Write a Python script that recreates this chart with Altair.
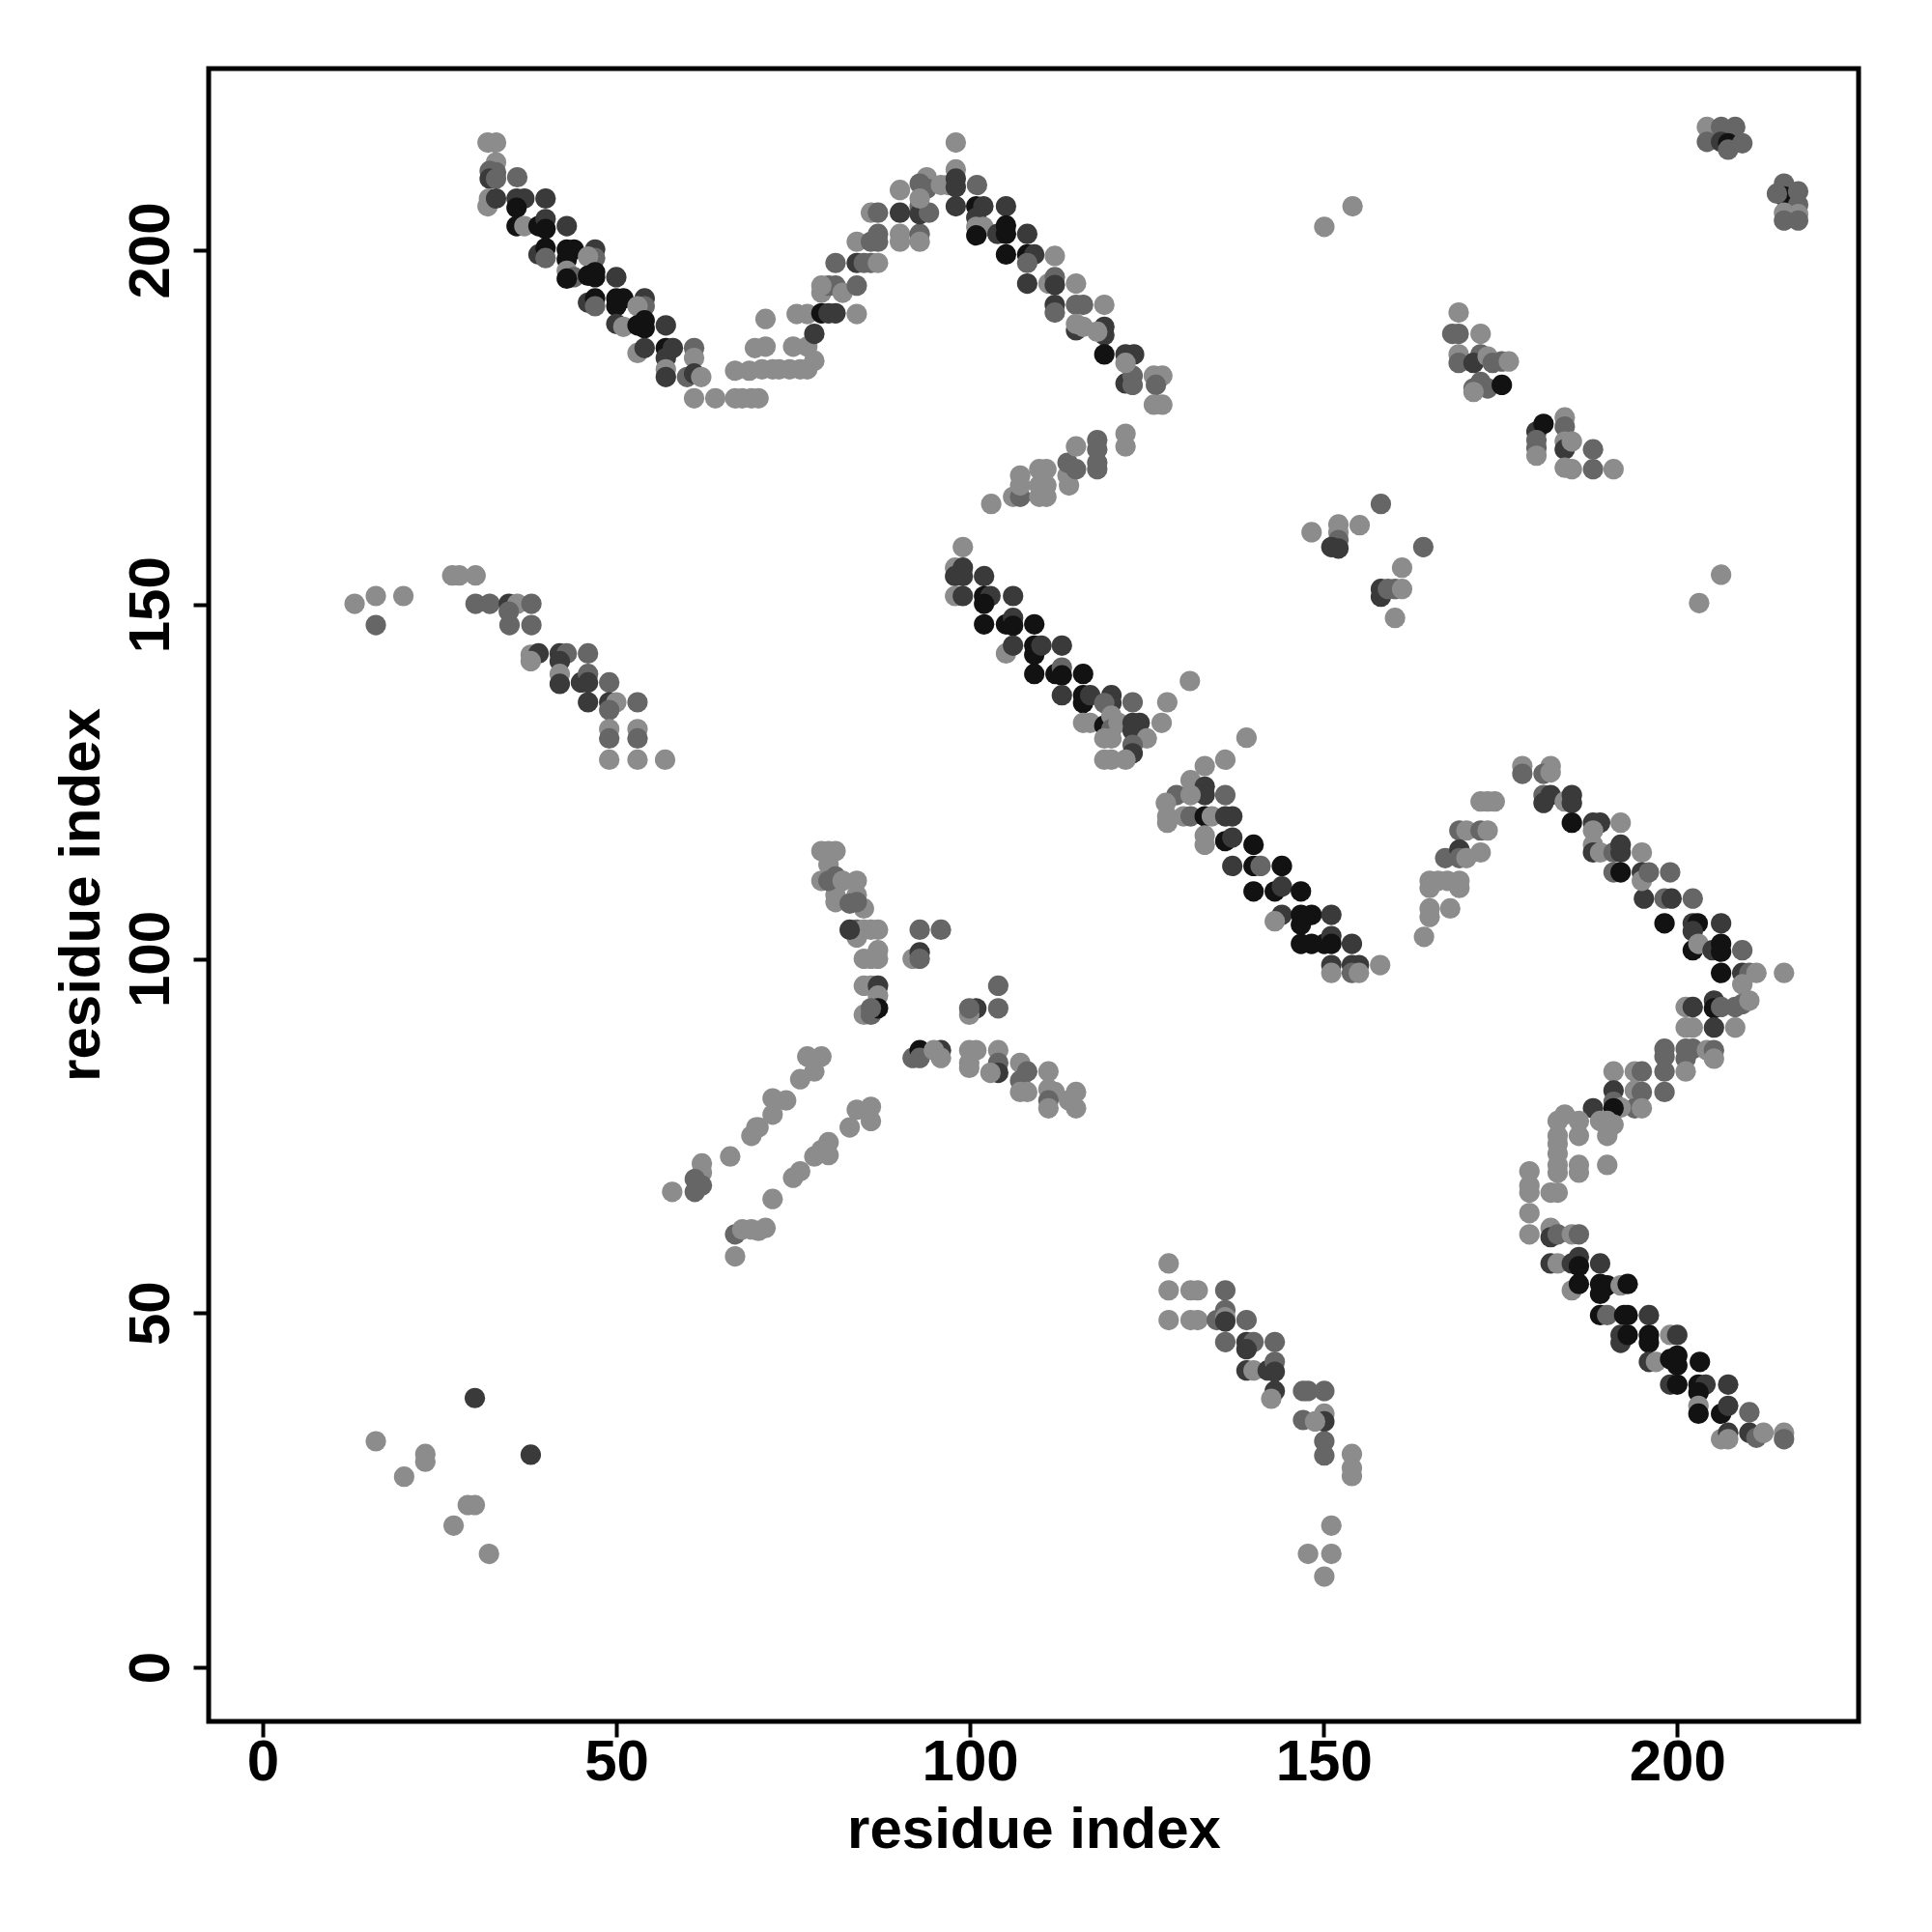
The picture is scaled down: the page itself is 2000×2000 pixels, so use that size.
import altair as alt
import pandas as pd

# (residue i, residue j, confidence level 1..4)
strand_a = [
    (31.8,215.2,1),(33.0,215.2,1),
    (33.0,212.4,1),(32.1,211.2,2),(33.0,211.0,2),(32.1,210.1,3),(33.0,210.1,2),
    (36.0,210.3,2),
    (32.0,207.3,1),(31.8,206.2,1),(33.0,207.3,3),
    (35.9,207.3,3),(37.0,207.3,3),(35.9,206.0,4),
    (40.0,207.3,3),
    (35.9,203.4,4),(37.0,203.4,1),
    (39.0,203.4,4),(40.0,204.4,3),(40.0,203.0,4),
    (43.0,203.4,3),
    (39.0,199.4,3),(40.0,200.3,4),(40.0,198.9,2),
    (43.0,200.1,4),(44.0,200.1,4),(43.0,198.7,4),
    (47.0,200.1,3),(47.0,198.9,2),(46.0,199.1,1),
    (43.0,197.1,1),(44.0,196.2,2),(43.0,196.0,4),
    (46.0,196.4,4),(47.0,196.9,4),(47.0,196.2,4),
    (50.0,196.2,3),
    (46.0,192.6,3),(47.0,193.2,4),(47.0,192.1,2),
    (50.0,193.2,4),(51.0,193.2,4),(50.0,192.1,4),
    (54.0,193.2,3),(54.0,192.1,2),(53.0,192.1,1),
    (50.0,189.6,3),(51.0,189.2,1),
    (53.0,189.4,4),(54.0,190.1,4),(54.0,189.0,4),
    (57.0,189.4,3),
    (53.0,185.5,1),(54.0,186.2,3),
    (57.0,186.2,4),(58.0,186.2,3),(57.0,184.8,3),
    (61.0,186.2,2),(61.0,184.8,1),
    (57.0,183.2,1),(57.0,182.1,3),
    (60.0,182.1,2),(61.0,182.6,3),(62.0,182.1,1),
    (61.0,179.1,1),(64.0,179.1,1),(66.8,179.1,1),(67.8,179.1,1),(69.1,179.1,1),(70.1,179.1,1),
    (66.8,183.0,1),(68.8,183.0,1),(69.6,186.2,1),
]

strand_b = [
    (71.1,190.3,1),(71.1,186.4,1),(70.6,183.2,1),(72.1,183.2,1),(73.0,183.2,1),(74.5,183.2,1),
    (76.0,183.2,1),(77.0,183.2,1),
    (75.0,186.4,1),(77.0,186.4,1),(78.0,184.4,1),(75.5,191.0,1),(77.0,191.0,1),(78.0,188.2,3),
    (79.0,191.1,4),(80.0,191.1,3),(81.0,191.1,3),
    (79.0,194.0,1),(80.0,195.0,2),(81.0,195.0,2),(82.0,194.0,1),(84.0,195.0,2),(84.0,191.0,1),(79.0,195.0,1),
    (81.0,198.2,2),(84.0,198.2,3),(85.0,198.2,2),(86.0,198.2,2),(87.0,198.2,1),
    (84.0,201.2,1),(86.0,201.2,2),(87.0,202.3,2),(87.0,201.2,2),
    (90.1,202.3,1),(90.1,201.2,1),(92.9,202.3,2),(92.9,201.2,1),
    (86.0,205.3,1),(87.0,205.3,2),(90.1,205.3,3),(92.9,206.2,2),(92.9,205.1,3),(94.2,205.3,2),
    (93.9,210.3,1),(92.9,209.4,2),(93.9,208.7,2),(92.9,207.3,1),(90.1,208.5,1),
    (95.9,209.2,1),(96.9,209.2,1),
    (98.0,215.2,1),(98.0,211.4,1),(98.0,210.1,3),(98.0,208.9,3),
]

strand_c = [
    (101.0,209.2,2),
    (98.0,206.2,3),(100.9,206.2,4),(101.9,206.2,3),(105.1,206.2,3),
    (100.9,204.6,3),(100.9,203.3,1),(101.9,203.3,1),(100.9,202.1,4),
    (103.9,202.3,3),(105.1,203.5,4),(105.1,202.3,4),
    (108.1,202.3,3),
    (105.1,199.4,4),(108.1,199.4,4),(109.1,199.4,3),(108.1,198.2,2),
    (112.0,199.2,1),
    (108.1,195.3,3),(111.1,195.3,1),(112.0,196.2,2),(112.0,195.1,3),(115.0,195.3,1),
    (112.0,192.3,3),(112.0,191.2,2),(115.0,192.3,2),(116.0,192.3,2),(119.0,192.3,1),
    (115.0,188.7,3),(116.0,189.2,1),(115.0,189.6,1),(119.0,189.2,3),(119.0,188.0,3),(118.0,188.5,1),
    (119.0,185.3,4),(122.0,185.3,3),(123.2,185.3,3),
    (122.0,181.2,3),(123.0,182.3,2),(123.0,181.0,2),(122.0,184.1,1),
    (126.0,182.3,1),(127.2,182.3,1),(126.3,181.0,2),
    (126.0,178.2,1),(127.2,178.2,1),
]

strand_d = [
    (103.0,164.2,1),(106.1,165.2,1),(107.1,165.2,2),(107.1,166.8,1),(107.1,168.2,1),
    (109.8,165.2,1),(110.8,165.2,1),(109.8,166.8,1),(110.8,166.8,1),(109.8,169.1,1),(110.8,169.1,1),
    (114.0,166.8,1),(113.8,168.2,1),(113.8,170.0,2),(115.0,169.1,2),(115.0,172.3,1),
    (118.0,173.2,2),(118.0,171.9,2),(118.0,170.0,2),(118.0,169.1,2),(122.0,174.1,1),(122.0,172.3,1),
]

strand_e = [
    (99.0,158.1,1),
    (97.9,155.2,1),(99.0,155.2,3),(97.9,154.0,3),(99.0,154.0,3),(102.0,154.0,3),
    (97.9,151.2,1),(99.0,151.2,3),(102.0,151.2,4),(102.9,151.2,3),(102.0,150.1,4),(106.1,151.2,3),
    (102.0,147.2,4),(105.1,147.2,4),(106.1,148.1,3),(106.1,147.0,4),(109.1,147.2,4),
    (105.1,143.1,1),(106.1,144.2,3),(109.1,144.2,4),(109.1,142.9,4),(110.1,144.2,3),(113.0,144.2,3),
    (109.1,140.2,4),(112.1,140.2,4),(113.0,141.1,2),(113.0,140.0,4),(116.0,140.2,4),
    (113.0,137.2,3),(116.0,137.2,4),(116.0,136.1,4),(117.0,137.2,3),(120.0,137.2,3),(120.0,136.1,3),
    (119.0,136.1,2),(123.0,136.2,2),(127.9,136.2,1),(131.1,139.2,1),
    (116.0,133.3,1),(117.0,133.3,1),(119.0,132.9,4),(120.0,134.3,1),(120.0,132.4,2),(121.0,133.3,1),
    (123.0,133.3,3),(124.0,133.3,3),(123.0,132.2,3),(125.0,131.1,1),(127.1,133.3,1),
    (119.0,131.1,1),(120.0,131.1,1),(123.0,130.2,2),(123.0,129.0,3),(119.0,128.1,1),(120.0,128.1,1),(122.0,128.1,1),
    (139.1,131.2,1),(136.1,128.1,1),(133.2,127.2,1),
    (131.2,125.2,1),(133.2,124.3,3),(133.2,123.1,3),(129.2,123.1,2),(127.7,122.0,1),(136.1,123.1,2),
    (131.2,123.1,1),(127.9,120.1,1),(127.9,119.2,1),
    (130.2,120.1,1),(131.2,120.1,2),(133.2,120.1,4),(134.2,120.1,1),(136.1,120.1,3),(137.1,120.1,3),
    (133.2,117.4,1),(133.2,116.1,1),(136.1,116.6,4),(137.1,117.1,3),(140.1,116.1,4),
    (137.1,113.1,3),(140.1,113.1,4),(141.1,113.1,2),(144.1,113.1,4),
    (140.1,109.5,4),(143.1,109.5,4),(144.1,110.2,3),(146.8,109.5,4),
    (144.1,106.2,3),(143.1,105.3,1),(146.8,106.2,4),(146.8,104.8,4),(146.8,102.1,4),
    (148.3,106.2,4),(151.1,106.2,3),(148.3,102.1,4),(150.1,102.1,4),(151.1,103.2,3),(151.1,102.1,4),
    (154.0,102.1,3),(151.1,99.1,3),(151.1,98.0,1),(154.0,99.1,3),(155.0,99.1,3),(154.0,98.0,2),
    (155.0,98.0,1),(158.0,99.1,1),
]

strand_f = [
    (26.8,154.1,1),(27.8,154.1,1),(30.1,154.1,1),
    (13.0,150.1,1),(16.0,151.2,1),(19.9,151.2,1),(16.0,147.1,2),
    (30.1,150.1,2),(32.1,150.1,2),(34.8,150.1,3),(36.0,150.1,1),(34.8,149.0,2),(38.0,150.1,2),
    (34.9,147.1,2),(38.0,147.1,2),
    (37.9,142.9,1),(39.0,143.1,3),(37.9,142.0,1),(42.0,143.1,3),(43.0,143.1,2),(42.0,142.0,3),(46.0,143.1,2),
    (42.0,140.2,1),(42.0,138.8,3),(45.0,139.0,3),(46.0,140.2,2),(46.0,139.0,3),(49.0,139.0,2),
    (46.0,136.2,3),(49.0,136.2,3),(50.0,136.2,1),(49.0,135.1,2),(53.0,136.2,2),
    (49.0,132.4,1),(49.0,131.1,2),(53.0,132.4,1),(53.0,131.1,2),
    (49.0,128.1,1),(53.0,128.1,1),(56.9,128.1,1),
]

strand_g = [
    (81.0,109.0,1),(84.0,109.0,1),(81.0,108.0,1),(83.0,107.8,2),(85.0,107.1,1),(84.0,108.0,2),
    (79.0,115.2,1),(80.0,115.2,1),(81.0,115.2,1),(80.0,113.3,1),(81.0,111.6,2),(79.0,111.0,1),
    (80.0,111.0,2),(82.0,111.0,1),(84.0,111.0,1),
    (84.0,104.1,2),(85.0,104.1,1),(86.0,104.1,1),(87.0,104.1,1),(84.0,103.0,1),(83.0,104.1,3),
    (85.0,100.0,1),(86.0,100.0,1),(87.0,101.2,1),(87.0,100.0,1),
    (85.0,96.2,1),(86.0,96.2,1),(87.0,96.2,3),(87.0,94.8,1),
    (85.0,92.1,1),(86.0,92.1,2),(87.0,93.0,4),(86.0,93.0,2),
    (92.9,104.1,2),(95.9,104.1,2),
    (91.9,100.0,1),(92.9,100.9,3),(92.9,100.0,2),
    (104.0,96.2,2),(104.0,93.0,2),(100.9,93.0,3),(99.9,92.1,1),(99.9,93.0,2),
    (91.9,86.0,2),(92.9,87.1,4),(92.9,86.0,2),(95.9,87.1,3),(95.9,86.0,1),(94.9,87.1,1),
    (99.9,87.1,1),(100.9,87.1,1),(99.9,85.3,1),(99.9,84.6,1),
    (104.0,87.1,1),(104.0,85.3,2),(104.0,83.9,3),(102.9,83.9,1),
    (107.1,85.3,1),(108.1,84.1,2),(107.1,82.8,2),(107.1,81.2,1),(108.1,81.2,1),
    (111.1,84.1,1),(111.1,81.6,1),(112.0,81.2,1),(111.1,80.0,2),(111.1,78.9,1),
    (115.0,81.2,1),(115.0,78.9,1),(114.0,80.0,1),
]

strand_h = [
    (77.0,86.2,1),(79.0,86.2,1),(78.0,84.1,1),(76.0,83.0,1),
    (72.1,80.3,1),(74.0,80.0,1),(72.1,78.0,1),(70.1,76.2,1),(69.1,75.0,1),(69.8,76.2,1),
    (66.1,72.1,1),(62.1,71.1,1),(62.1,69.8,1),(61.1,68.9,2),(61.1,67.1,2),(62.1,68.0,2),(57.9,67.1,1),
    (86.0,79.1,1),(84.0,78.7,1),(86.0,77.1,1),(83.0,76.2,1),
    (80.0,74.1,1),(79.0,73.0,1),(78.0,72.1,1),(80.0,72.3,1),
    (76.0,70.0,1),(75.0,69.1,1),
    (72.1,66.1,1),
    (71.1,62.0,1),(70.1,61.6,1),
    (66.8,61.1,2),(67.8,61.8,1),(69.1,61.8,1),(66.8,58.0,1),
]

strand_i = [
    (128.1,57.0,1),(128.1,53.2,1),(131.2,53.2,1),(132.2,53.2,1),(136.1,53.2,2),(136.1,50.4,2),
    (128.1,49.0,1),(131.2,49.0,1),(132.2,49.0,1),(134.9,49.0,2),(136.1,49.4,1),(136.1,48.8,3),(139.1,49.0,2),
    (136.1,45.9,2),(139.1,45.9,3),(140.1,45.9,2),(139.1,44.9,3),(143.1,45.9,2),
    (139.1,41.9,3),(140.1,41.9,1),(142.1,41.9,3),(143.1,43.1,2),(143.1,41.7,3),
    (143.1,39.0,3),(142.6,37.9,1),(147.1,39.0,2),(147.8,39.0,2),(150.1,39.0,2),
    (147.1,34.9,2),(150.1,35.8,1),(150.1,34.7,3),(148.8,34.7,1),
    (150.1,31.9,2),(150.1,29.9,2),
    (154.0,30.1,1),(154.0,28.1,1),(154.0,27.0,1),
    (151.1,20.0,1),(147.8,16.0,1),(151.1,16.0,1),(150.1,12.8,1),
]

scatter_j = [
    (30.0,38.0,3),(16.0,31.9,1),(23.0,30.1,1),(23.0,29.0,1),(20.0,26.9,1),(37.9,30.0,3),
    (29.0,22.9,1),(30.0,22.9,1),(27.0,20.0,1),(32.0,16.0,1),
]

strand_k = [
    (195.3,108.5,3),(198.2,108.5,2),(199.2,108.5,3),(202.2,108.5,2),
    (198.2,105.0,4),(202.2,105.0,3),(202.9,105.0,4),(202.2,103.9,3),(206.2,105.0,3),
    (202.2,101.2,4),(203.0,102.1,1),(205.0,101.2,3),(206.2,102.1,4),(206.2,101.0,4),(209.2,101.2,2),
    (206.2,98.0,4),(209.2,98.0,3),(210.2,98.0,2),(211.2,98.0,1),(215.1,98.0,1),(209.2,96.4,1),
    (201.2,93.2,1),(202.2,93.2,3),(205.2,94.1,3),(205.2,93.0,4),(206.2,93.2,2),(208.2,93.2,2),
    (209.2,93.6,2),(210.2,94.1,1),
    (201.2,90.3,1),(202.2,90.3,1),(205.2,90.3,3),(208.2,90.3,1),
    (198.2,87.3,2),(198.2,86.2,2),(198.2,84.1,2),(201.2,87.3,2),(202.2,87.3,2),(201.2,85.9,2),
    (204.2,87.1,1),(205.2,87.1,2),(205.2,85.9,1),(201.2,84.1,1),
    (198.2,81.2,2),
    (191.0,84.1,1),(194.0,84.1,1),(195.0,84.1,2),
    (191.0,81.4,3),(191.0,79.8,2),(194.0,81.4,1),(195.0,81.2,2),(194.0,78.9,2),(195.0,78.9,1),
    (192.0,79.0,1),(188.1,78.9,3),(191.0,78.9,4),
    (184.1,78.0,1),(183.1,77.1,1),(186.1,77.1,1),(189.1,77.1,1),(190.1,77.1,1),(191.0,76.6,1),
    (190.1,75.0,1),(186.1,75.0,1),(183.1,75.0,1),(183.1,73.9,1),(183.1,72.5,1),
    (183.1,70.9,1),(183.1,69.8,1),(186.1,70.9,1),(186.1,69.8,1),(190.1,70.9,1),
    (179.1,70.0,1),(179.1,68.0,1),(179.1,67.0,1),(182.1,67.0,1),(183.1,67.0,1),
    (179.1,64.1,1),(179.1,61.1,1),
    (182.1,62.0,1),(182.1,60.7,3),(183.1,61.1,2),(185.1,61.1,1),(186.1,61.1,2),
    (182.1,57.0,3),(183.1,57.0,1),(185.1,57.0,3),(186.1,57.9,3),(186.1,56.6,4),(189.1,57.0,3),
    (185.1,53.2,1),(186.1,54.1,4),(189.1,54.1,4),(190.1,53.9,4),(189.1,52.7,4),(192.0,53.9,1),(193.0,54.1,4),
    (189.1,49.7,4),(190.1,49.7,2),(192.5,49.7,4),(193.0,49.7,4),(196.0,49.7,3),
    (192.0,46.9,3),(192.0,45.8,3),(193.0,46.9,4),(196.0,46.9,4),(196.0,45.8,4),(199.0,46.9,1),(200.0,46.9,3),
    (196.0,43.1,3),(197.0,43.1,1),(199.0,43.5,4),(200.0,44.0,4),(200.0,42.6,4),(203.2,43.1,4),
    (199.0,39.9,3),(200.0,39.9,4),(203.0,39.9,4),(204.0,39.9,3),(203.0,38.8,4),(207.2,39.9,3),
    (203.0,36.9,1),(203.0,35.8,4),(206.2,35.8,4),(207.2,36.9,3),(210.2,36.0,2),
    (206.2,32.2,1),(207.2,33.1,3),(207.2,32.2,1),(210.2,33.1,3),(211.2,32.4,2),(212.2,33.1,1),
    (215.1,33.1,1),(215.1,32.2,2),
]

strand_l = [
    (178.1,127.2,1),(178.1,126.1,2),(182.1,127.2,1),(181.1,126.1,2),(182.1,126.3,1),
    (181.1,123.1,2),(181.1,122.0,3),(182.1,123.1,3),(184.1,122.2,1),(185.1,123.1,3),(185.1,122.0,3),
    (185.1,119.2,4),(188.1,119.2,3),(189.1,119.2,3),(188.1,118.1,1),(192.0,119.2,1),
    (188.1,116.1,1),(188.1,115.0,3),(189.1,115.0,1),(191.0,115.0,2),(192.0,116.1,3),(192.0,115.0,3),(195.0,115.0,1),
    (191.0,112.2,2),(192.0,112.2,4),(195.0,112.2,3),(195.0,111.0,1),(196.0,112.2,2),(199.0,112.2,2),
    (172.2,122.2,1),(173.2,122.2,1),(174.2,122.2,1),
    (169.2,118.1,2),(170.2,118.1,1),(172.2,118.1,2),(173.2,118.1,1),
    (167.2,114.2,2),(169.2,115.4,3),(169.2,114.2,2),(170.2,114.2,1),(172.2,115.0,1),
    (165.0,111.0,1),(166.2,111.0,1),(167.5,111.0,1),(169.2,111.0,1),(165.0,110.0,1),(169.2,110.0,1),
    (165.0,107.1,1),(167.9,107.1,1),(165.0,105.9,1),(164.2,103.1,1),
]

cluster_m = [
    (158.1,164.2,2),(148.3,160.2,1),(152.1,161.3,1),(152.1,160.2,1),(152.1,159.1,2),(151.1,158.1,3),
    (152.1,157.9,3),(155.1,161.2,1),(164.1,158.1,2),(161.1,155.2,1),(158.1,152.2,3),(158.1,151.1,3),
    (159.1,152.2,2),(160.1,152.2,2),(161.1,152.2,1),(160.1,148.1,1),
    (206.2,154.2,1),(203.1,150.2,1),
]

cluster_n = [
    (154.1,206.2,1),(150.1,203.3,1),
    (169.1,191.2,1),(168.2,188.2,2),(169.1,188.2,2),(172.2,188.2,1),
    (169.1,185.3,1),(169.1,184.1,2),(172.2,185.3,2),(171.2,184.1,3),(173.2,185.0,1),(173.9,184.1,2),
    (175.2,184.3,2),(176.2,184.3,1),
    (171.2,180.5,2),(172.2,181.4,2),(173.2,180.5,2),(175.2,181.0,4),(171.2,180.0,1),
    (180.1,174.4,3),(181.1,175.5,4),(180.1,173.2,2),(180.1,172.1,2),(180.1,171.0,1),
    (184.1,176.4,1),(184.1,175.1,2),(184.1,173.0,1),(184.1,171.9,3),(185.1,173.0,1),(184.1,169.3,1),
    (185.1,169.1,1),(188.1,171.9,2),(188.1,169.1,2),(191.0,169.1,1),
]

cluster_o = [
    (204.2,217.4,1),(206.2,217.4,2),(208.2,217.4,2),(204.2,215.3,2),(206.2,215.3,3),(207.2,215.1,4),
    (209.2,215.1,2),(207.2,214.2,2),
    (215.1,209.4,2),(215.1,207.6,4),(214.1,208.0,2),(217.1,208.3,2),(217.1,206.4,2),(215.1,205.3,1),
    (217.1,205.1,1),(215.1,204.2,2),(217.1,204.2,2),
]

groups = [strand_a, strand_b, strand_c, strand_d, strand_e, strand_f, strand_g, strand_h,
          strand_i, scatter_j, strand_k, strand_l, cluster_m, cluster_n, cluster_o]

tick_values = [0, 50, 100, 150, 200]
level_domain = [1, 2, 3, 4]
level_colors = ["#8c8c8c", "#666666", "#3a3a3a", "#121212"]

rows = [p for g in groups for p in g]
df = pd.DataFrame(rows, columns=["i", "j", "level"])

FONT = "Liberation Sans"
dom = [-7.64, 225.64]

chart = alt.Chart(df).mark_circle(size=450, opacity=1).encode(
    x=alt.X("i:Q",
            scale=alt.Scale(domain=dom, nice=False, zero=False),
            axis=alt.Axis(values=tick_values, format="d", title="residue index",
                          tickSize=16, tickWidth=4, labelPadding=44,
                          labelBaseline="alphabetic", titleBaseline="alphabetic",
                          titleY=130, titleAnchor="middle")),
    y=alt.Y("j:Q",
            scale=alt.Scale(domain=dom, nice=False, zero=False),
            axis=alt.Axis(values=tick_values, format="d", title="residue index",
                          tickSize=16, tickWidth=4, labelPadding=26,
                          labelAngle=270, labelAlign="center", labelBaseline="alphabetic",
                          titleAngle=270, titleAlign="center", titleBaseline="alphabetic",
                          titleX=-114, titleY=855)),
    color=alt.Color("level:O", scale=alt.Scale(domain=level_domain, range=level_colors), legend=None),
).properties(
    width=1708, height=1711,
    padding={"left": 208, "top": 63, "right": 40, "bottom": 160},
    autosize=alt.AutoSizeParams(type="none"),
    background="white",
).configure_view(
    stroke="black", strokeWidth=5
).configure_axis(
    grid=False, domain=False,
    labelFont=FONT, labelFontSize=60, labelFontWeight="bold", labelColor="black",
    titleFont=FONT, titleFontSize=60, titleFontWeight="bold", titleColor="black",
    tickColor="black", labelOverlap=False, labelFlush=False, labelBound=False,
)

chart.save("out.html", embed_options={"renderer": "svg", "actions": False})
